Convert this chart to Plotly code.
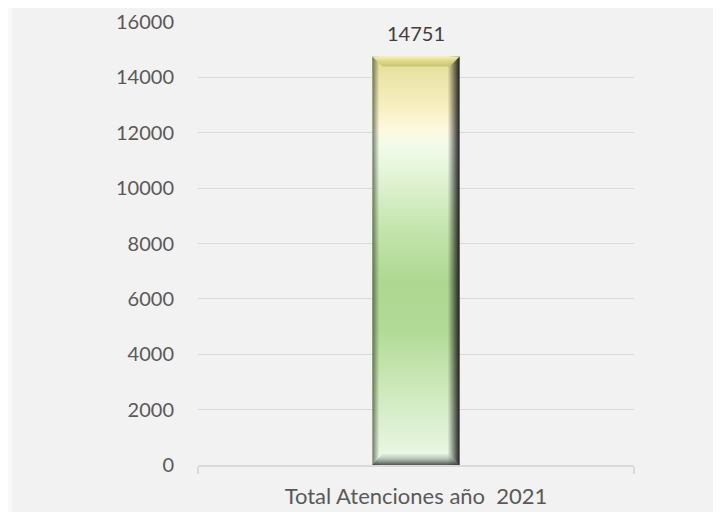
import plotly.graph_objects as go

# ---- data ----
categories = ["Total Atenciones año  2021"]
values = [14751]
y_ticks = [0, 2000, 4000, 6000, 8000, 10000, 12000, 14000, 16000]

FONT = "Lato, 'Open Sans', sans-serif"
BAR_W = 0.2
PX_X = 1.0 / 436          # x units per pixel
PX_Y = 16000.0 / 443      # y units per pixel

fig = go.Figure()

xpos = list(range(len(categories)))

# base bar (data)
fig.add_trace(go.Bar(
    x=xpos, y=values, width=BAR_W,
    marker=dict(color="#c6e6b0", line=dict(width=0)),
    hoverinfo="skip", showlegend=False,
))

bar_scale = [
    [0.00, "#eefaee"], [0.05, "#e4f4dd"], [0.20, "#cbe8b8"], [0.33, "#b2da97"],
    [0.45, "#aed891"], [0.58, "#c4e5ae"], [0.70, "#e0f3d3"], [0.78, "#f2fbe9"],
    [0.82, "#fdf9e0"], [0.87, "#f8f0c4"], [0.94, "#ede7ab"], [1.00, "#e2dd96"],
]

for xi, v in zip(xpos, values):
    x0, x1 = xi - BAR_W / 2, xi + BAR_W / 2
    # main vertical gradient
    fig.add_trace(go.Scatter(
        x=[x0, x1, x1, x0, x0], y=[0, 0, v, v, 0], mode="lines",
        line=dict(width=0), fill="toself",
        fillgradient=dict(type="vertical", colorscale=bar_scale, start=0, stop=v),
        hoverinfo="skip", showlegend=False))
    # left edge shade
    lw = 7 * PX_X
    fig.add_trace(go.Scatter(
        x=[x0, x0 + lw, x0 + lw, x0, x0], y=[0, 0, v, v, 0], mode="lines",
        line=dict(width=0), fill="toself",
        fillgradient=dict(type="horizontal",
                          colorscale=[[0, "rgba(60,70,50,0.7)"], [1, "rgba(70,80,60,0)"]],
                          start=x0, stop=x0 + lw),
        hoverinfo="skip", showlegend=False))
    # right edge shade
    rw = 12 * PX_X
    fig.add_trace(go.Scatter(
        x=[x1 - rw, x1, x1, x1 - rw, x1 - rw], y=[0, 0, v, v, 0], mode="lines",
        line=dict(width=0), fill="toself",
        fillgradient=dict(type="horizontal",
                          colorscale=[[0, "rgba(30,30,30,0)"], [0.5, "rgba(30,30,30,0.5)"],
                                      [1, "rgba(20,20,20,0.95)"]],
                          start=x1 - rw, stop=x1),
        hoverinfo="skip", showlegend=False))
    # top bevel
    th = 10 * PX_Y
    d = 10 * PX_X
    fig.add_trace(go.Scatter(
        x=[x0, x1, x1 - d, x0 + d, x0], y=[v, v, v - th, v - th, v], mode="lines",
        line=dict(width=0), fill="toself",
        fillgradient=dict(type="vertical",
                          colorscale=[[0, "rgba(196,192,104,0.9)"], [0.8, "rgba(232,230,160,0.95)"],
                                      [1, "rgba(245,244,190,1)"]],
                          start=v - th, stop=v),
        hoverinfo="skip", showlegend=False))
    # bottom bevel
    bh = 11 * PX_Y
    fig.add_trace(go.Scatter(
        x=[x0, x1, x1 - d, x0 + d, x0], y=[0, 0, bh, bh, 0], mode="lines",
        line=dict(width=0), fill="toself",
        fillgradient=dict(type="vertical",
                          colorscale=[[0, "rgba(60,65,60,0.9)"], [0.5, "rgba(140,148,140,0.65)"],
                                      [1, "rgba(200,210,200,0.3)"]],
                          start=0, stop=bh),
        hoverinfo="skip", showlegend=False))

# value labels
for xi, v in zip(xpos, values):
    fig.add_annotation(x=xi, y=v, text=str(v), showarrow=False, yanchor="bottom",
                       yshift=10, font=dict(family=FONT, size=20, color="#404040"))

fig.update_layout(
    width=713, height=504,
    margin=dict(l=190, r=87, t=14, b=47, autoexpand=False),
    paper_bgcolor="#f9f9f9",
    plot_bgcolor="rgba(0,0,0,0)",
    showlegend=False,
    bargap=0,
    font=dict(family=FONT, size=20, color="#595959"),
    shapes=[dict(type="rect", xref="paper", yref="paper",
                 x0=-186 / 436, x1=1.3, y0=-0.2, y1=1.2,
                 fillcolor="#f2f2f2", line=dict(width=0), layer="below")],
)

fig.update_xaxes(
    range=[-0.5, len(categories) - 0.5], tickvals=xpos, ticktext=categories,
    tickfont=dict(size=22), automargin=False,
    showgrid=False, zeroline=False, showline=True, linecolor="#d9d9d9", linewidth=1.5,
    ticks="", ticklabelstandoff=11, fixedrange=True,
    minor=dict(tickvals=[i - 0.5 for i in range(len(categories) + 1)], ticks="outside",
               ticklen=7, tickcolor="#d9d9d9", tickwidth=1.5, showgrid=False),
)
fig.update_yaxes(
    range=[0, 16000], tickvals=y_ticks, tickformat="d", automargin=False,
    showgrid=True, gridcolor="#d9d9d9", gridwidth=1,
    zeroline=False, showline=False, ticks="", ticklabelstandoff=23, fixedrange=True,
)

fig.write_html("out.html")
